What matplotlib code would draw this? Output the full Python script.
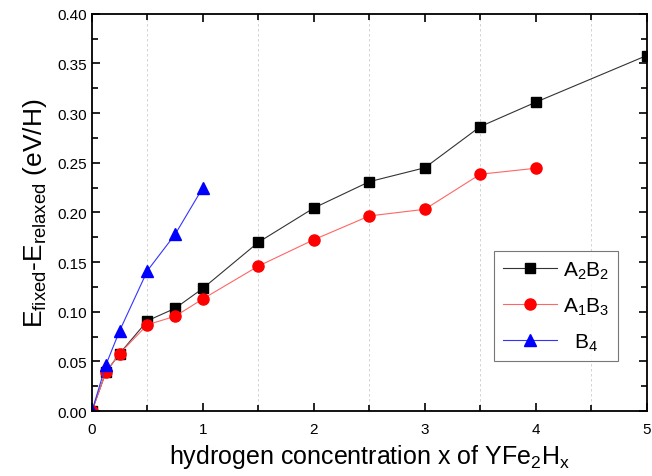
import numpy as np
import matplotlib
matplotlib.use('Agg')
import matplotlib.pyplot as plt
from matplotlib.ticker import MultipleLocator

plt.rcParams['font.family'] = ['Liberation Sans', 'DejaVu Sans']
plt.rcParams['mathtext.default'] = 'regular'

# data
x_a2b2 = [0, 0.125, 0.25, 0.5, 0.75, 1, 1.5, 2, 2.5, 3, 3.5, 4, 5]
y_a2b2 = [0, 0.039, 0.058, 0.091, 0.1035, 0.1236, 0.170, 0.2045, 0.231, 0.245, 0.2865, 0.311, 0.358]

x_a1b3 = [0, 0.125, 0.25, 0.5, 0.75, 1, 1.5, 2, 2.5, 3, 3.5, 4]
y_a1b3 = [0, 0.039, 0.058, 0.087, 0.0955, 0.113, 0.146, 0.1726, 0.1965, 0.2032, 0.2385, 0.2445]

x_b4 = [0, 0.125, 0.25, 0.5, 0.75, 1]
y_b4 = [0, 0.0463, 0.081, 0.1414, 0.178, 0.225]

labels = ['A$_2$B$_2$', 'A$_1$B$_3$', '  B$_4$']

fig = plt.figure(figsize=(6.52, 4.77), dpi=100)
ax = fig.add_axes([0.141, 0.136, 0.851, 0.833])

ax.plot(x_a2b2, y_a2b2, color='#333333', lw=0.8, marker='s', ms=7,
        mfc='black', mec='black', label=labels[0])
ax.plot(x_a1b3, y_a1b3, color='#ff6666', lw=0.8, marker='o', ms=8,
        mfc='red', mec='red', label=labels[1])
ax.plot(x_b4, y_b4, color='#3333ff', lw=0.8, marker='^', ms=8,
        mfc='blue', mec='blue', label=labels[2])

ax.set_xlim(0, 5)
ax.set_ylim(0, 0.40)
ax.xaxis.set_major_locator(MultipleLocator(1))
ax.xaxis.set_minor_locator(MultipleLocator(0.5))
ax.yaxis.set_major_locator(MultipleLocator(0.05))
ax.yaxis.set_minor_locator(MultipleLocator(0.025))
ax.yaxis.set_major_formatter(matplotlib.ticker.FormatStrFormatter('%.2f'))

# dashed grid on the half-integer x positions
ax.grid(True, which='minor', axis='x', color='#cccccc', ls=(0, (3, 3)), lw=0.6)
ax.tick_params(which='both', direction='in', top=True, right=True,
               labelsize=11, width=1.2)
ax.tick_params(which='major', length=6)
ax.tick_params(which='minor', length=4)
ax.tick_params(axis='x', pad=8)
for s in ax.spines.values():
    s.set_linewidth(1.3)

ax.set_xlabel('hydrogen concentration x of YFe$_2$H$_x$', fontsize=18, labelpad=4)
ax.set_ylabel('E$_{fixed}$-E$_{relaxed}$ (eV/H)', fontsize=19, labelpad=6)

leg = ax.legend(loc='lower right', bbox_to_anchor=(0.948, 0.126), fontsize=15,
                fancybox=False, edgecolor='#555555', handlelength=2.6,
                handletextpad=0.3, borderpad=0.4, labelspacing=0.7,
                borderaxespad=0)
leg.get_frame().set_linewidth(0.8)

fig.savefig('out.png', dpi=100)
